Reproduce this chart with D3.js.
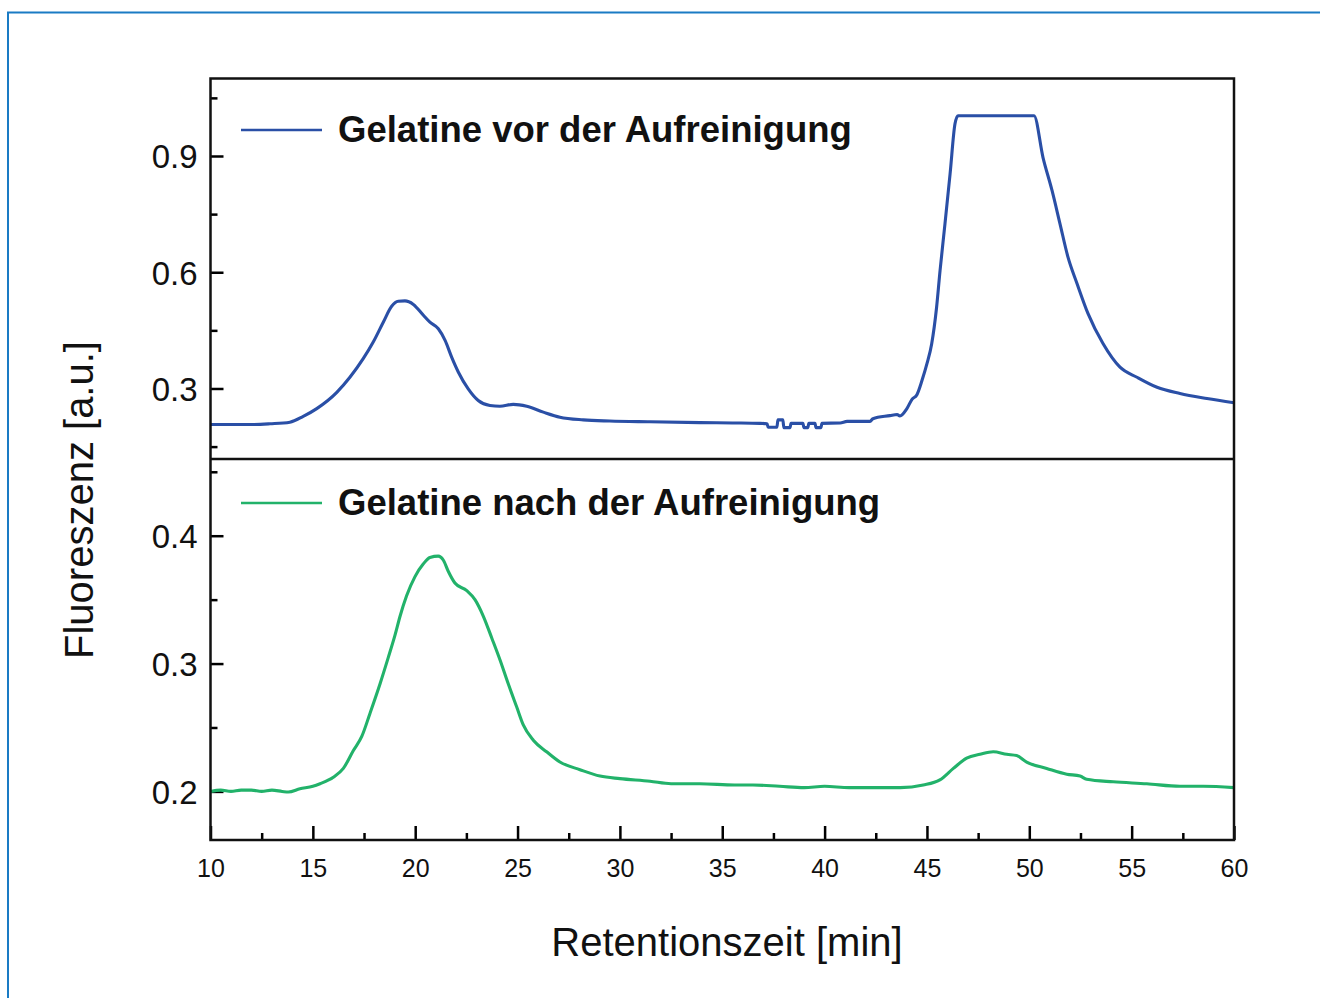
<!DOCTYPE html>
<html>
<head>
<meta charset="utf-8">
<script src="https://cdn.jsdelivr.net/npm/d3@7"></script>
<style>
  html, body { margin: 0; padding: 0; background: #fff; }
  svg { display: block; font-family: 'Liberation Sans', Arial, Helvetica, sans-serif; }
</style>
</head>
<body>
<div id="chart"></div>
<script>
// x axis (minutes)
const timeTicks = [10, 15, 20, 25, 30, 35, 40, 45, 50, 55, 60];
const timeMinorTicks = [12.5, 17.5, 22.5, 27.5, 32.5, 37.5, 42.5, 47.5, 52.5, 57.5];

// y axes
const topTicks = [0.3, 0.6, 0.9];
const topMinorTicks = [0.15, 0.45, 0.75, 1.05];
const bottomTicks = [0.2, 0.3, 0.4];
const bottomMinorTicks = [0.25, 0.35, 0.45];

const legendLabels = ['Gelatine vor der Aufreinigung', 'Gelatine nach der Aufreinigung'];

// Gelatine vor der Aufreinigung
const blueTime = [10.00, 11.00, 12.00, 12.91, 13.88, 14.53, 15.19, 16.17, 16.81, 17.46,
  17.95, 18.44, 18.85, 19.17, 19.50, 19.91, 20.40, 20.72, 21.13, 21.46,
  21.78, 22.11, 22.59, 23.08, 23.65, 24.14, 24.79, 25.45, 26.26, 27.07,
  28.21, 29.50, 31.47, 33.91, 35.50, 36.84, 37.19, 37.24, 37.67, 37.72,
  37.96, 38.01, 38.31, 38.36, 38.94, 38.99, 39.18, 39.23, 39.53, 39.58,
  39.82, 39.87, 40.76, 41.10, 42.22, 42.36, 43.19, 43.54, 43.68, 44.02,
  44.27, 44.51, 44.76, 45.00, 45.23, 45.47, 45.64, 45.88, 46.13, 46.37,
  46.52, 50.23, 50.67, 51.11, 51.50, 51.89, 52.33, 52.87, 53.60, 54.43,
  55.26, 56.24, 57.36, 58.68, 60.00];
const blueSignal = [0.207, 0.207, 0.207, 0.209, 0.213, 0.228, 0.248, 0.290, 0.329, 0.377,
  0.420, 0.471, 0.512, 0.525, 0.526, 0.517, 0.489, 0.471, 0.454, 0.424,
  0.381, 0.342, 0.299, 0.269, 0.256, 0.254, 0.259, 0.254, 0.239, 0.226,
  0.219, 0.216, 0.214, 0.212, 0.211, 0.210, 0.209, 0.200, 0.200, 0.219,
  0.219, 0.199, 0.199, 0.210, 0.210, 0.199, 0.199, 0.210, 0.210, 0.199,
  0.199, 0.210, 0.211, 0.215, 0.215, 0.222, 0.230, 0.233, 0.229, 0.248,
  0.272, 0.284, 0.321, 0.364, 0.415, 0.509, 0.604, 0.725, 0.854, 0.983,
  1.004, 1.004, 0.896, 0.811, 0.725, 0.639, 0.571, 0.493, 0.416, 0.355,
  0.329, 0.303, 0.287, 0.274, 0.263];

// Gelatine nach der Aufreinigung
const greenTime = [10.00, 10.50, 11.00, 11.50, 12.00, 12.50, 13.00, 13.50, 13.80, 14.37,
  15.00, 15.35, 16.00, 16.49, 16.98, 17.39, 17.79, 18.28, 18.69, 19.01,
  19.26, 19.58, 19.99, 20.40, 20.72, 21.13, 21.37, 21.62, 21.94, 22.52,
  22.92, 23.33, 23.74, 24.14, 24.55, 24.96, 25.28, 25.77, 26.42, 27.07,
  28.05, 29.03, 30.00, 31.47, 32.50, 33.90, 35.60, 36.50, 37.80, 39.00,
  40.00, 41.20, 42.70, 43.70, 44.82, 45.63, 46.29, 46.94, 47.59, 48.24,
  48.90, 49.38, 49.87, 50.85, 51.83, 52.48, 52.80, 54.10, 55.74, 57.36,
  58.50, 60.00];
const greenSignal = [0.200, 0.201, 0.200, 0.201, 0.201, 0.200, 0.201, 0.200, 0.1995, 0.202,
  0.204, 0.206, 0.211, 0.218, 0.232, 0.243, 0.261, 0.284, 0.305, 0.322,
  0.337, 0.353, 0.368, 0.378, 0.383, 0.384, 0.381, 0.372, 0.363, 0.357,
  0.350, 0.337, 0.320, 0.303, 0.284, 0.266, 0.252, 0.240, 0.231, 0.223,
  0.217, 0.212, 0.210, 0.208, 0.206, 0.206, 0.205, 0.205, 0.204, 0.203,
  0.204, 0.203, 0.203, 0.203, 0.205, 0.209, 0.218, 0.226, 0.229, 0.231,
  0.229, 0.228, 0.223, 0.218, 0.2135, 0.212, 0.2095, 0.2075, 0.206, 0.204,
  0.204, 0.203];

const chart = {
  props: {
    width: 1320,
    height: 998,
    left: 210.5,
    right: 1234,
    top: 78.5,
    middle: 459,
    bottom: 840,
    frameWidth: 2.5,
    lineWidth: 3.1,
    blue: '#2a4fa6',
    green: '#22b26a',
    border: '#1a7bc4'
  },

  /**
   * Build the svg and draw everything
   * @param {Node} el Target DOM node
   */
  create(el) {
    const {width, height, left, right} = this.props;
    this.svg = d3.select(el).append('svg')
      .attr('width', width)
      .attr('height', height);

    this.x = d3.scaleLinear().domain([10, 60]).range([left, right]);

    this._drawBorder();
    this._drawPanel({
      time: blueTime, signal: blueSignal, color: this.props.blue,
      domain: [0.118, 1.1], y0: this.props.top, y1: this.props.middle,
      ticks: topTicks, minor: topMinorTicks, label: legendLabels[0],
      legendY: 130
    });
    this._drawPanel({
      time: greenTime, signal: greenSignal, color: this.props.green,
      domain: [0.162, 0.46], y0: this.props.middle, y1: this.props.bottom,
      ticks: bottomTicks, minor: bottomMinorTicks, label: legendLabels[1],
      legendY: 503
    });
    this._drawXAxis();
    this._drawFrame();
    this._drawTitles();
  },

  _drawBorder() {
    const {width, height, border} = this.props;
    this.svg.append('path')
      .attr('d', `M8,${height} V12.5 H${width}`)
      .attr('fill', 'none')
      .attr('stroke', border)
      .attr('stroke-width', 2);
  },

  /**
   * One stacked panel: y axis, curve and legend entry
   * @param {Object} p Panel settings
   */
  _drawPanel(p) {
    const {left, frameWidth, lineWidth} = this.props;
    const y = d3.scaleLinear().domain(p.domain).range([p.y1, p.y0]);
    const data = p.time.map((t, i) => ({t: t, v: p.signal[i]}));

    const major = this.svg.append('g')
      .attr('transform', `translate(${left},0)`)
      .call(d3.axisLeft(y).tickValues(p.ticks)
        .tickSizeInner(-13).tickSizeOuter(0).tickPadding(13)
        .tickFormat(d3.format('.1f')));
    major.select('.domain').remove();
    major.selectAll('line').attr('stroke', '#000').attr('stroke-width', frameWidth);
    major.selectAll('text')
      .attr('fill', '#111')
      .attr('font-size', 33)
      .attr('dy', '0.36em');

    const minor = this.svg.append('g')
      .attr('transform', `translate(${left},0)`)
      .call(d3.axisLeft(y).tickValues(p.minor)
        .tickSizeInner(-7).tickSizeOuter(0).tickFormat(''));
    minor.select('.domain').remove();
    minor.selectAll('line').attr('stroke', '#000').attr('stroke-width', frameWidth);

    const line = d3.line()
      .x(d => this.x(d.t))
      .y(d => y(d.v))
      .curve(d3.curveMonotoneX);

    this.svg.append('path')
      .datum(data)
      .attr('d', line)
      .attr('fill', 'none')
      .attr('stroke', p.color)
      .attr('stroke-width', lineWidth)
      .attr('stroke-linejoin', 'round');

    // legend entry
    this.svg.append('line')
      .attr('x1', 241).attr('x2', 322)
      .attr('y1', p.legendY).attr('y2', p.legendY)
      .attr('stroke', p.color)
      .attr('stroke-width', 2.5);
    this.svg.append('text')
      .attr('x', 338)
      .attr('y', p.legendY + 12)
      .attr('font-size', 36.5)
      .attr('font-weight', 'bold')
      .attr('fill', '#111')
      .text(p.label);
  },

  _drawXAxis() {
    const {bottom, frameWidth} = this.props;
    const major = this.svg.append('g')
      .attr('transform', `translate(0,${bottom})`)
      .call(d3.axisBottom(this.x).tickValues(timeTicks)
        .tickSizeInner(-14).tickSizeOuter(0).tickPadding(19));
    major.select('.domain').remove();
    major.selectAll('line').attr('stroke', '#000').attr('stroke-width', frameWidth);
    major.selectAll('text').attr('fill', '#111').attr('font-size', 25);

    const minor = this.svg.append('g')
      .attr('transform', `translate(0,${bottom})`)
      .call(d3.axisBottom(this.x).tickValues(timeMinorTicks)
        .tickSizeInner(-7).tickSizeOuter(0).tickFormat(''));
    minor.select('.domain').remove();
    minor.selectAll('line').attr('stroke', '#000').attr('stroke-width', frameWidth);
  },

  _drawFrame() {
    const {left, right, top, middle, bottom, frameWidth} = this.props;
    this.svg.append('rect')
      .attr('x', left).attr('y', top)
      .attr('width', right - left).attr('height', bottom - top)
      .attr('fill', 'none')
      .attr('stroke', '#111')
      .attr('stroke-width', frameWidth);
    this.svg.append('line')
      .attr('x1', left).attr('x2', right)
      .attr('y1', middle).attr('y2', middle)
      .attr('stroke', '#111')
      .attr('stroke-width', frameWidth);
  },

  _drawTitles() {
    this.svg.append('text')
      .attr('transform', 'translate(93,500) rotate(-90)')
      .attr('text-anchor', 'middle')
      .attr('font-size', 40)
      .attr('fill', '#111')
      .text('Fluoreszenz [a.u.]');
    this.svg.append('text')
      .attr('x', 727)
      .attr('y', 956)
      .attr('text-anchor', 'middle')
      .attr('font-size', 40)
      .attr('fill', '#111')
      .text('Retentionszeit [min]');
  }
};

chart.create(document.getElementById('chart'));
</script>
</body>
</html>
